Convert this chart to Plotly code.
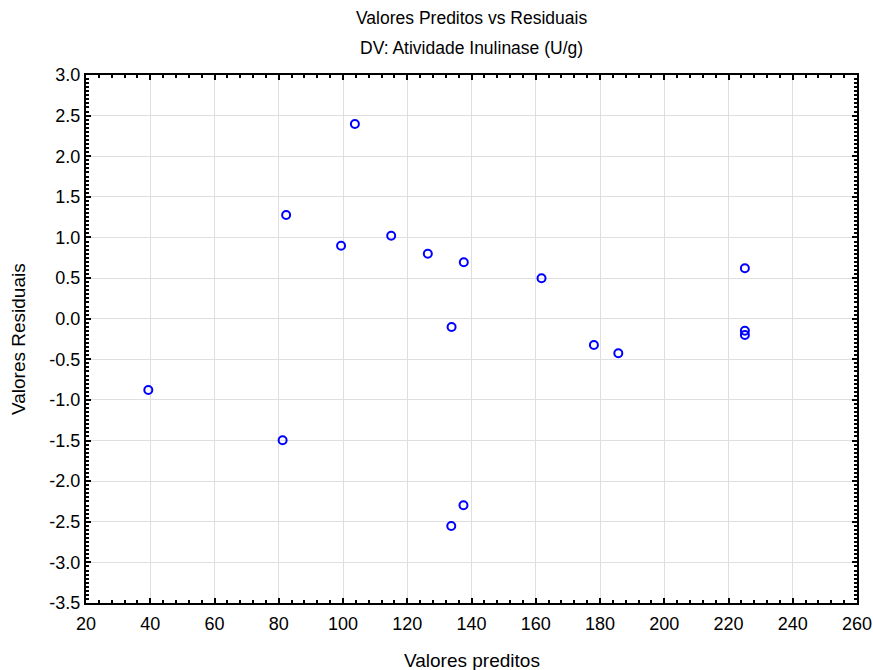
import plotly.graph_objects as go

# Predicted values and residuals for inulinase activity (U/g)
preditos = [39.4, 81.2, 82.3, 99.4, 103.7, 115.0, 126.4, 133.8, 133.7,
            137.6, 137.5, 161.8, 178.1, 185.7, 225.1, 225.1, 225.1]
residuos = [-0.878, -1.497, 1.277, 0.899, 2.397, 1.022, 0.80, -0.102, -2.552,
            0.694, -2.297, 0.497, -0.324, -0.426, 0.62, -0.148, -0.20]

x_ticks = list(range(20, 261, 20))
y_ticks = [round(-3.5 + 0.5 * i, 1) for i in range(14)]

FONT = "Liberation Sans, Arial, sans-serif"

fig = go.Figure(
    go.Scatter(
        x=preditos,
        y=residuos,
        mode="markers",
        marker=dict(symbol="circle-open", size=8, color="#0000FF",
                    line=dict(width=2, color="#0000FF")),
        showlegend=False,
    )
)

axis_common = dict(
    showline=True, linecolor="black", linewidth=2, mirror="ticks",
    ticks="inside", ticklen=5, tickwidth=2, tickcolor="black",
    showgrid=True, gridcolor="#DFDFDF", gridwidth=1,
    zeroline=False, automargin=False,
    tickfont=dict(family=FONT, size=18, color="black"),
)

fig.update_xaxes(
    range=[20, 260], tickvals=x_ticks,
    ticktext=[str(v) for v in x_ticks],
    ticklabelstandoff=3,
    minor=dict(ticks="inside", ticklen=3, tickwidth=2, tickcolor="black",
               dtick=4, showgrid=False),
    **axis_common,
)
fig.update_yaxes(
    range=[-3.5, 3.0], tickvals=y_ticks,
    ticktext=[f"{v:.1f}" for v in y_ticks],
    minor=dict(ticks="inside", ticklen=3, tickwidth=2, tickcolor="black",
               dtick=0.05, showgrid=False),
    **axis_common,
)

fig.update_layout(
    width=873, height=670,
    margin=dict(l=86, r=16, t=75, b=67),
    paper_bgcolor="white", plot_bgcolor="white",
    font=dict(family=FONT, color="black"),
)

# Chart titles
fig.add_annotation(text="Valores Preditos vs Residuais", xref="paper", yref="paper",
                   x=0.5, y=1, xanchor="center", yanchor="middle", yshift=57,
                   showarrow=False, font=dict(family=FONT, size=17.5, color="black"))
fig.add_annotation(text="DV: Atividade Inulinase (U/g)", xref="paper", yref="paper",
                   x=0.5, y=1, xanchor="center", yanchor="middle", yshift=27,
                   showarrow=False, font=dict(family=FONT, size=17.5, color="black"))

# Axis titles
fig.add_annotation(text="Valores preditos", xref="paper", yref="paper",
                   x=0.5, y=0, xanchor="center", yanchor="middle", yshift=-57,
                   showarrow=False, font=dict(family=FONT, size=19, color="black"))
fig.add_annotation(text="Valores Residuais", xref="paper", yref="paper",
                   x=0, y=0.5, xanchor="center", yanchor="middle", xshift=-68,
                   textangle=-90, showarrow=False,
                   font=dict(family=FONT, size=19, color="black"))

fig.write_html("out.html")
